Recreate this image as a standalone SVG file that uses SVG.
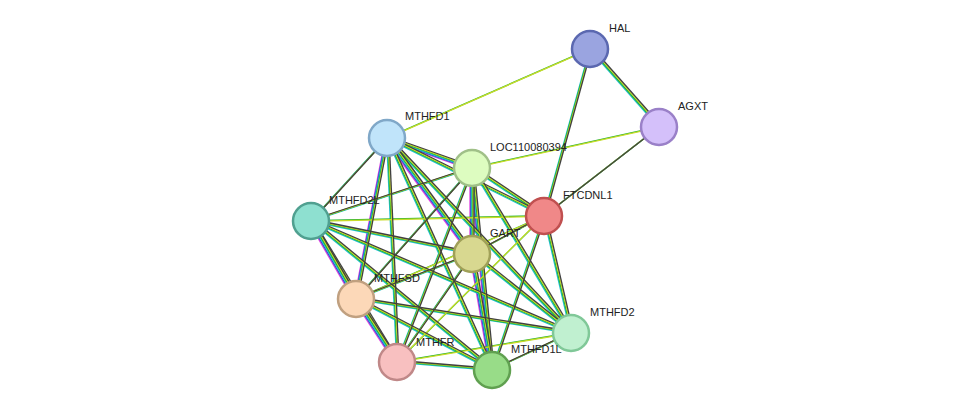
<svg xmlns="http://www.w3.org/2000/svg" xmlns:xlink="http://www.w3.org/1999/xlink" width="975" height="416" viewBox="0 0 975 416">
<style>
.m{stroke:#e040e0}.b{stroke:#3050d0}.c{stroke:#20c0d0}.g{stroke:#20b030}.y{stroke:#c8dc28}.k{stroke:#404040}
use{stroke-width:1.3;fill:none}
circle{stroke-width:2.5}
text{font-family:"Liberation Sans",Arial,sans-serif;font-size:11px;fill:#222}
</style>
<defs>
<g id="sA">
<line x1="387" y1="138" x2="472" y2="168"/><line x1="387" y1="138" x2="472" y2="254"/><line x1="387" y1="138" x2="356" y2="299"/>
<line x1="472" y1="168" x2="472" y2="254"/><line x1="472" y1="254" x2="492" y2="370"/><line x1="356" y1="299" x2="397" y2="362"/>
<line x1="311" y1="221" x2="356" y2="299"/><line x1="472" y1="168" x2="492" y2="370"/>
</g>
<g id="sB">
<line x1="387" y1="138" x2="311" y2="221"/><line x1="387" y1="138" x2="544" y2="216"/><line x1="387" y1="138" x2="571" y2="333"/>
<line x1="387" y1="138" x2="397" y2="362"/><line x1="387" y1="138" x2="492" y2="370"/>
<line x1="472" y1="168" x2="311" y2="221"/><line x1="472" y1="168" x2="544" y2="216"/><line x1="472" y1="168" x2="356" y2="299"/>
<line x1="472" y1="168" x2="571" y2="333"/><line x1="472" y1="168" x2="397" y2="362"/>
<line x1="311" y1="221" x2="472" y2="254"/><line x1="311" y1="221" x2="571" y2="333"/><line x1="311" y1="221" x2="397" y2="362"/><line x1="311" y1="221" x2="492" y2="370"/>
<line x1="544" y1="216" x2="472" y2="254"/><line x1="544" y1="216" x2="571" y2="333"/><line x1="544" y1="216" x2="492" y2="370"/>
<line x1="544" y1="216" x2="590" y2="49"/><line x1="544" y1="216" x2="659" y2="127"/>
<line x1="472" y1="254" x2="356" y2="299"/><line x1="472" y1="254" x2="571" y2="333"/><line x1="472" y1="254" x2="397" y2="362"/>
<line x1="356" y1="299" x2="571" y2="333"/><line x1="356" y1="299" x2="492" y2="370"/>
<line x1="571" y1="333" x2="492" y2="370"/><line x1="397" y1="362" x2="492" y2="370"/>
<line x1="590" y1="49" x2="659" y2="127"/>
</g>
<g id="sC">
<line x1="387" y1="138" x2="590" y2="49"/><line x1="472" y1="168" x2="659" y2="127"/>
<line x1="311" y1="221" x2="544" y2="216"/><line x1="544" y1="216" x2="356" y2="299"/><line x1="544" y1="216" x2="397" y2="362"/>
<line x1="571" y1="333" x2="397" y2="362"/>
</g>
</defs>
<g id="connectors">
<use href="#sA" class="m" transform="translate(-2,1.5)"/>
<use href="#sA" class="b" transform="translate(-1.2,0.9)"/>
<use href="#sA" class="c" transform="translate(-0.4,0.3)"/>
<use href="#sB" class="c" transform="translate(-0.4,0.3)"/>
<use href="#sA" class="g" transform="translate(0.4,-0.3)"/>
<use href="#sB" class="g" transform="translate(0.4,-0.3)"/>
<use href="#sC" class="g" transform="translate(0.4,-0.3)"/>
<use href="#sA" class="y" transform="translate(1.2,-0.9)"/>
<use href="#sB" class="y" transform="translate(1.2,-0.9)"/>
<use href="#sC" class="y" transform="translate(-0.4,0.3)"/>
<use href="#sA" class="k" transform="translate(2,-1.5)"/>
<use href="#sB" class="k" transform="translate(2,-1.5)"/>
</g>
<g id="HAL"><circle cx="590" cy="49" r="18" fill="#9aa4e0" stroke="#5b68b0"/><text x="609" y="32">HAL</text></g>
<g id="AGXT"><circle cx="659" cy="127" r="18" fill="#d4c0fa" stroke="#9a80c8"/><text x="678" y="110">AGXT</text></g>
<g id="MTHFD1"><circle cx="387" cy="138" r="18" fill="#c0e4fa" stroke="#80a8c8"/><text x="405" y="120">MTHFD1</text></g>
<g id="LOC110080394"><circle cx="472" cy="168" r="18" fill="#ddfcc0" stroke="#a0c088"/><text x="490" y="151">LOC110080394</text></g>
<g id="MTHFD2L"><circle cx="311" cy="221" r="18" fill="#8ee0d0" stroke="#50a090"/><text x="329" y="204">MTHFD2L</text></g>
<g id="FTCDNL1"><circle cx="544" cy="216" r="18" fill="#f08888" stroke="#c05050"/><text x="563" y="199">FTCDNL1</text></g>
<g id="GART"><circle cx="472" cy="254" r="18" fill="#d8d890" stroke="#a0a058"/><text x="490" y="237">GART</text></g>
<g id="MTHFSD"><circle cx="356" cy="299" r="18" fill="#fcd8b8" stroke="#c0a080"/><text x="374" y="282">MTHFSD</text></g>
<g id="MTHFD2"><circle cx="571" cy="333" r="18" fill="#c0f0d0" stroke="#80c898"/><text x="590" y="316">MTHFD2</text></g>
<g id="MTHFR"><circle cx="397" cy="362" r="18" fill="#f8c0c0" stroke="#c08888"/><text x="416" y="346">MTHFR</text></g>
<g id="MTHFD1L"><circle cx="492" cy="370" r="18" fill="#98dc88" stroke="#60a050"/><text x="511" y="353">MTHFD1L</text></g>
</svg>
